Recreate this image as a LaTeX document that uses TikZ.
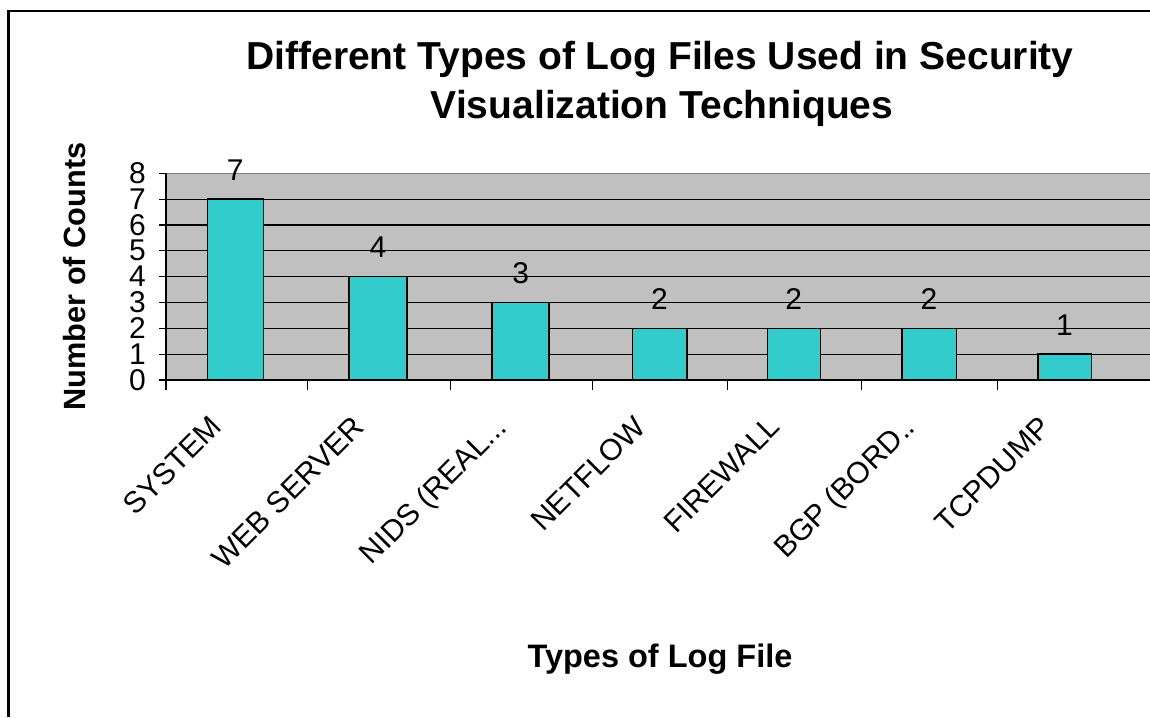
\documentclass[tikz,border=0pt]{standalone}
\usepackage{fontspec}
\setmainfont{Liberation Sans}
\definecolor{plotgray}{HTML}{C0C0C0}
\definecolor{framegray}{HTML}{808080}
\definecolor{barteal}{HTML}{33CCCC}
\newcommand\labNIDS{NIDS (REAL...}
\newcommand\labBGP{BGP (BORD..}
\begin{document}
\begin{tikzpicture}[x=1pt,y=-1pt,
  bar/.style={draw=black,line width=1.6pt,fill=barteal},
  grid line/.style={draw=black,line width=1.1pt},
  ticklabel/.style={font=\fontsize{30}{32}\selectfont,inner sep=0pt},
  valuelabel/.style={font=\fontsize{30}{32}\selectfont,inner sep=0pt,anchor=base},
  catlabel/.style={font=\fontsize{30}{32}\selectfont,inner sep=0pt,anchor=base east,rotate=45},
  charttitle/.style={font=\bfseries\fontsize{39}{46}\selectfont,inner sep=0pt,anchor=base}]
\useasboundingbox (0,0) rectangle (1150,717);
\fill[white] (0,0) rectangle (1150,717);
% outer frame (left and top edges)
\draw[line width=2.6pt] (8.7,717) -- (8.7,11) -- (1150,11);
% plot area
\fill[plotgray] (166,173.3) rectangle (1150,380);
\draw[framegray,line width=1.1pt] (166,173.3) -- (1150,173.3);
\draw[black,line width=1.1pt] (159,173.3) -- (166,173.3);
\foreach \i in {1,...,7} {
  \draw[grid line] (159,{380-\i*25.84}) -- (1150,{380-\i*25.84});
}
% axes
\draw[black,line width=1.3pt] (166,173.3) -- (166,390);
\draw[black,line width=1.3pt] (159,380) -- (1150,380);
\foreach \t in {307.3,450.7,592.3,727.3,861.7,997.7} {
  \draw[black,line width=1.1pt] (\t,380) -- (\t,390);
}
% y tick labels
\foreach \i in {0,...,8} {
  \node[ticklabel,anchor=east] (ytick\i) at (146,{380-\i*25.84}) {\i};
}
% bars, values and category names
\foreach \n/\c/\w/\v/\lab in {
  a/235.3/56/7/SYSTEM,
  b/378.0/58/4/WEB SERVER,
  c/520.7/57/3/\labNIDS,
  d/659.5/54.4/2/NETFLOW,
  e/793.8/53/2/FIREWALL,
  f/929.0/54.6/2/\labBGP,
  g/1064.5/53.6/1/TCPDUMP} {
  \draw[bar] ({\c-\w/2},380) rectangle ({\c+\w/2},{380-\v*25.84});
  \node[valuelabel] (val\n) at (\c,{380-\v*25.84-19}) {\v};
  \node[catlabel] (cat\n) at ({\c-12},429) {\lab};
}
% titles
\node[charttitle] (title1) at (660,70) {Different Types of Log Files Used in Security};
\node[charttitle] (title2) at (662,118) {Visualization Techniques};
\node[font=\bfseries\fontsize{32.5}{34}\selectfont,inner sep=0pt,anchor=base] (xtitle) at (660,667) {Types of Log File};
\node[font=\bfseries\fontsize{30.7}{32}\selectfont,inner sep=0pt,rotate=90,anchor=base] (ytitle) at (85,276.5) {Number of Counts};
\end{tikzpicture}
\end{document}
